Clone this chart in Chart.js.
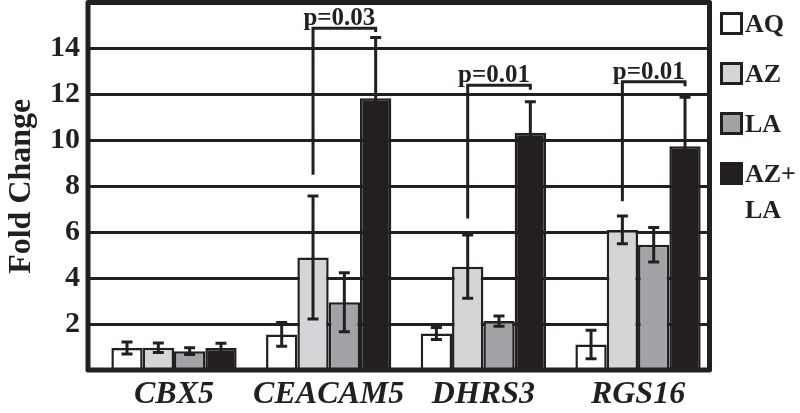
<!DOCTYPE html>
<html>
<head>
<meta charset="utf-8">
<script src="https://cdn.jsdelivr.net/npm/chart.js@4.4.1/dist/chart.umd.min.js"></script>
<style>
  html, body { margin: 0; padding: 0; background: #ffffff; }
  #wrap { position: relative; width: 800px; height: 413px; }
  #legend { position: absolute; left: 720px; top: 12px; font-family: 'Liberation Serif', 'Times New Roman', serif; font-weight: bold; font-size: 26px; color: #231f20; }
  .item { display: flex; align-items: flex-start; height: 23px; margin-bottom: 27px; }
  .box { width: 23px; height: 23px; box-sizing: border-box; border: 3px solid #231f20; flex: none; }
  .txt { margin-left: 2px; line-height: 36px; margin-top: -6.5px; white-space: nowrap; }
</style>
</head>
<body>
<div id="wrap">
  <canvas id="c"></canvas>
  <div id="legend"></div>
</div>
<script>
// ---- data ----
const categories = ['CBX5', 'CEACAM5', 'DHRS3', 'RGS16'];
const seriesNames = ['AQ', 'AZ', 'LA', 'AZ+LA'];
const legendLines = [['AQ'], ['AZ'], ['LA'], ['AZ+', 'LA']];
const seriesColors = ['#ffffff', '#d4d5d7', '#a2a3a6', '#231f20'];

const aqValues   = [0.96, 1.55, 1.59, 1.11];
const aqErrors   = [0.26, 0.52, 0.26, 0.62];
const azValues   = [0.97, 4.90, 4.50, 6.10];
const azErrors   = [0.21, 2.68, 1.38, 0.60];
const laValues   = [0.82, 2.95, 2.13, 5.45];
const laErrors   = [0.15, 1.28, 0.22, 0.75];
const azlaValues = [0.96, 11.83, 10.33, 9.74];
const azlaErrors = [0.20, 2.65, 1.35, 2.14];

const yTickValues = [2, 4, 6, 8, 10, 12, 14];

// significance brackets: category index, from series, to series, low end, top, right drop end, label
const sigCategory = [1, 2, 3];
const sigFrom     = [1, 1, 1];
const sigTo       = [3, 3, 3];
const sigLow      = [8.5, 6.6, 7.35];
const sigTop      = [14.88, 12.4, 12.55];
const sigRightEnd = [14.72, 12.2, 12.35];
const sigLabels   = ['p=0.03', 'p=0.01', 'p=0.01'];

const allValues = [aqValues, azValues, laValues, azlaValues];
const allErrors = [aqErrors, azErrors, laErrors, azlaErrors];

const INK = '#231f20';
const SERIF = "'Liberation Serif', 'Times New Roman', serif";

// ---- legend (HTML) ----
const legendEl = document.getElementById('legend');
seriesNames.forEach((n, i) => {
  const item = document.createElement('div');
  item.className = 'item';
  const box = document.createElement('div');
  box.className = 'box';
  box.style.background = seriesColors[i];
  const t = document.createElement('div');
  t.className = 'txt';
  t.innerHTML = legendLines[i].join('<br>');
  item.appendChild(box); item.appendChild(t);
  legendEl.appendChild(item);
});

// ---- plugins ----
const errorBars = {
  id: 'errorBars',
  afterDatasetsDraw(chart) {
    const ctx = chart.ctx, ys = chart.scales.y;
    ctx.save();
    ctx.strokeStyle = INK;
    ctx.lineWidth = 3;
    allErrors.forEach((errs, di) => {
      const meta = chart.getDatasetMeta(di);
      meta.data.forEach((bar, j) => {
        const v = allValues[di][j], e = errs[j];
        const yt = ys.getPixelForValue(v + e), yb = ys.getPixelForValue(v - e);
        const x = bar.x, cw = 5.5;
        ctx.beginPath();
        ctx.moveTo(x, yt); ctx.lineTo(x, yb);
        ctx.moveTo(x - cw, yt); ctx.lineTo(x + cw, yt);
        ctx.moveTo(x - cw, yb); ctx.lineTo(x + cw, yb);
        ctx.stroke();
      });
    });
    ctx.restore();
  }
};

const sigBrackets = {
  id: 'sigBrackets',
  afterDatasetsDraw(chart) {
    const ctx = chart.ctx, ys = chart.scales.y;
    ctx.save();
    ctx.strokeStyle = INK;
    ctx.fillStyle = INK;
    ctx.lineWidth = 3;
    ctx.lineCap = 'butt';
    ctx.lineJoin = 'miter';
    ctx.font = 'bold 25px ' + SERIF;
    ctx.textAlign = 'center';
    ctx.textBaseline = 'alphabetic';
    sigCategory.forEach((c, k) => {
      const x1 = chart.getDatasetMeta(sigFrom[k]).data[c].x;
      const x2 = chart.getDatasetMeta(sigTo[k]).data[c].x;
      const yLow = ys.getPixelForValue(sigLow[k]);
      const yTop = ys.getPixelForValue(sigTop[k]);
      const yEnd = ys.getPixelForValue(sigRightEnd[k]);
      ctx.beginPath();
      ctx.moveTo(x1, yLow); ctx.lineTo(x1, yTop); ctx.lineTo(x2, yTop); ctx.lineTo(x2, yEnd);
      ctx.stroke();
      ctx.fillText(sigLabels[k], (x1 + x2) / 2 - 5, yTop - 3);
    });
    ctx.restore();
  }
};

const frame = {
  id: 'frame',
  afterDraw(chart) {
    const a = chart.chartArea, ctx = chart.ctx;
    ctx.save();
    ctx.strokeStyle = INK;
    ctx.lineWidth = 5;
    ctx.lineJoin = 'round';
    ctx.strokeRect(a.left, a.top, a.right - a.left, a.bottom - a.top);
    ctx.restore();
  }
};

// ---- chart ----
const datasets = seriesNames.map((name, i) => ({
  label: name,
  data: allValues[i].map((v, j) => ({ x: j, y: v })),
  backgroundColor: seriesColors[i],
  borderColor: INK,
  borderWidth: 2.5,
  categoryPercentage: 0.81,
  barPercentage: 1.0
}));

new Chart(document.getElementById('c'), {
  type: 'bar',
  data: { datasets },
  plugins: [errorBars, sigBrackets, frame],
  options: {
    responsive: true,
    maintainAspectRatio: false,
    animation: false,
    layout: { padding: { top: 2.5, right: 90.5, left: 0, bottom: 0 } },
    plugins: { legend: { display: false }, tooltip: { enabled: false } },
    scales: {
      x: {
        type: 'linear',
        offset: false,
        min: -0.556,
        max: 3.462,
        afterBuildTicks: s => { s.ticks = categories.map((c, i) => ({ value: i })); },
        afterFit: s => { s.height = 43; s.paddingLeft = 0; s.paddingRight = 0; },
        grid: { display: false, drawTicks: false, offset: false },
        border: { display: false },
        ticks: {
          callback: v => categories[v],
          autoSkip: false,
          maxRotation: 0,
          padding: 6,
          color: INK,
          font: { family: SERIF, size: 32, weight: 'bold', style: 'italic' }
        }
      },
      y: {
        min: 0,
        max: 16,
        afterBuildTicks: s => { s.ticks = yTickValues.map(v => ({ value: v })); },
        afterFit: s => { s.width = 88; s.paddingTop = 0; s.paddingBottom = 0; },
        grid: { color: INK, lineWidth: 3, drawTicks: false },
        border: { display: false },
        ticks: {
          padding: 8,
          color: INK,
          font: { family: SERIF, size: 30, weight: 'bold' }
        },
        title: {
          display: true,
          text: 'Fold Change',
          color: INK,
          padding: { top: 3, bottom: 0 },
          font: { family: SERIF, size: 32, weight: 'bold' }
        }
      }
    }
  }
});
</script>
</body>
</html>
